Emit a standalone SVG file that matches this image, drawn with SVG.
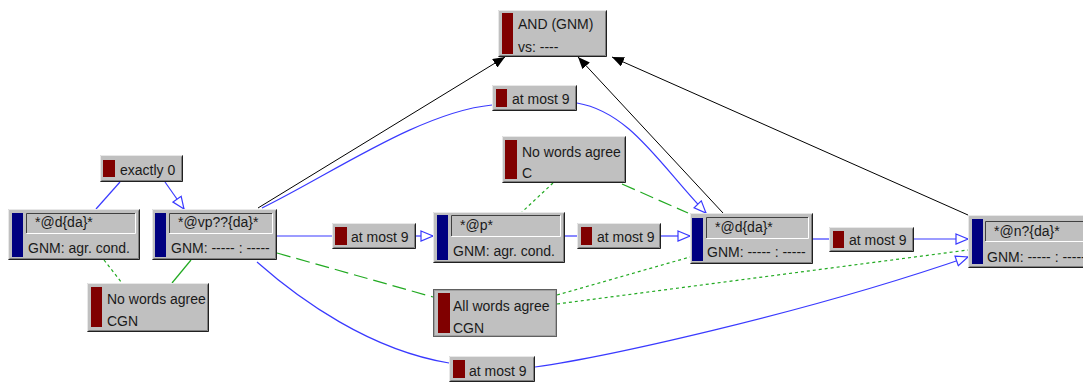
<svg xmlns="http://www.w3.org/2000/svg" width="1083" height="383" viewBox="0 0 1083 383">
<style>
.face{fill:#c0c0c0}
.hl{fill:none;stroke:#e8e8e8;stroke-width:1}
.sh{fill:none;stroke:#202020;stroke-width:1}
.sh2{fill:none;stroke:#808080;stroke-width:1}
.fd{fill:none;stroke:#404040;stroke-width:1}
.fl{fill:none;stroke:#ffffff;stroke-width:1}
.red{fill:#800000}
.blue{fill:#000080}
.t{font-family:"Liberation Sans",Arial,sans-serif;font-size:14px;fill:#1a1a1a}
.bk{fill:none;stroke:#000;stroke-width:1}
.bl{fill:none;stroke:#3a3aff;stroke-width:1.2}
.gs{fill:none;stroke:#22aa22;stroke-width:1.2}
.gd{fill:none;stroke:#22aa22;stroke-width:1.2;stroke-dasharray:14 6}
.gdot{fill:none;stroke:#22aa22;stroke-width:1.2;stroke-dasharray:3 3}
</style>
<defs>
<marker id="ab" viewBox="0 0 12 10" refX="12" refY="5" markerWidth="12" markerHeight="10" markerUnits="userSpaceOnUse" orient="auto">
<path d="M0,0 L12,5 L0,10 z" fill="#000"/>
</marker>
<marker id="ah" viewBox="-1 -1 14 12" refX="12" refY="5" markerWidth="14" markerHeight="12" markerUnits="userSpaceOnUse" orient="auto">
<path d="M0,0 L12,5 L0,10 z" fill="#fff" stroke="#3a3aff" stroke-width="1.2"/>
</marker>
</defs>
<rect width="1083" height="383" fill="#fff"/>
<g id="connectors">
<!-- black to AND -->
<path class="bk" d="M258,208 L505,57" marker-end="url(#ab)"/>
<path class="bk" d="M723,213 L578,57" marker-end="url(#ab)"/>
<path class="bk" d="M968,215 L612,57" marker-end="url(#ab)"/>
<!-- blue -->
<path class="bl" d="M120,182 L96,209"/>
<path class="bl" d="M165,182 L184,209" marker-end="url(#ah)"/>
<path class="bl" d="M277,236 L332,236"/>
<path class="bl" d="M416,236 L433,236" marker-end="url(#ah)"/>
<path class="bl" d="M565,236 L577,236"/>
<path class="bl" d="M661,236 L690,236" marker-end="url(#ah)"/>
<path class="bl" d="M813,239 L829,239"/>
<path class="bl" d="M914,239 L968,239" marker-end="url(#ah)"/>
<path class="bl" d="M262,208 C330,175 420,112 492,105"/>
<path class="bl" d="M577,103 C630,112 660,165 706,213" marker-end="url(#ah)"/>
<path class="bl" d="M257,262 C300,300 370,350 449,363"/>
<path class="bl" d="M535,367 C600,358 800,315 968,257" marker-end="url(#ah)"/>
<!-- green -->
<path class="gdot" d="M104,260 L122,283"/>
<path class="gs" d="M191,260 L172,283"/>
<path class="gd" d="M277,253 L433,297"/>
<path class="gdot" d="M557,295 L690,257"/>
<path class="gdot" d="M557,304 L968,250"/>
<path class="gdot" d="M553,183 L522,212"/>
<path class="gd" d="M622,184 L688,213"/>
</g>
<g id="n-and">
<rect class="face" x="498" y="10" width="109" height="47"/>
<path class="hl" d="M498.5,56 V10.5 H606"/><path class="sh" d="M498.5,56.5 H606.5 V10.5"/><path class="sh2" d="M499.5,55.5 H605.5 V11.5"/>
<rect class="red" x="502" y="13" width="11" height="41"/>
<text class="t" x="518" y="29">AND (GNM)</text>
<text class="t" x="518" y="52">vs: ----</text>
</g>
<g id="n-exactly0">
<rect class="face" x="100" y="155" width="83" height="27"/>
<path class="hl" d="M100.5,181 V155.5 H182"/><path class="sh" d="M100.5,181.5 H182.5 V155.5"/><path class="sh2" d="M101.5,180.5 H181.5 V156.5"/>
<rect class="red" x="103" y="160" width="12" height="17"/>
<text class="t" x="120" y="175">exactly 0</text>
</g>
<g id="n-d-left">
<rect class="face" x="8" y="209" width="132" height="51"/>
<path class="hl" d="M8.5,259 V209.5 H139"/><path class="sh" d="M8.5,259.5 H139.5 V209.5"/><path class="sh2" d="M9.5,258.5 H138.5 V210.5"/>
<rect class="blue" x="12" y="213" width="11" height="44"/>
<path class="fd" d="M26.5,233 V213.5 H135"/><path class="fl" d="M26.5,233.5 H135.5 V213.5"/>
<text class="t" x="35" y="227">*@d{da}*</text>
<text class="t" x="28" y="253">GNM: agr. cond.</text>
</g>
<g id="n-vp">
<rect class="face" x="152" y="209" width="125" height="51"/>
<path class="hl" d="M152.5,259 V209.5 H276"/><path class="sh" d="M152.5,259.5 H276.5 V209.5"/><path class="sh2" d="M153.5,258.5 H275.5 V210.5"/>
<rect class="blue" x="155" y="213" width="11" height="44"/>
<path class="fd" d="M169.5,233 V213.5 H272"/><path class="fl" d="M169.5,233.5 H272.5 V213.5"/>
<text class="t" x="178" y="227">*@vp??{da}*</text>
<text class="t" x="171" y="253">GNM: ----- : -----</text>
</g>
<g id="n-nwa-left">
<rect class="face" x="87" y="283" width="122" height="49"/>
<path class="hl" d="M87.5,331 V283.5 H208"/><path class="sh" d="M87.5,331.5 H208.5 V283.5"/><path class="sh2" d="M88.5,330.5 H207.5 V284.5"/>
<rect class="red" x="91" y="287" width="11" height="40"/>
<text class="t" x="107" y="304">No words agree</text>
<text class="t" x="107" y="326">CGN</text>
</g>
<g id="n-am9-l">
<rect class="face" x="332" y="223" width="84" height="26"/>
<path class="hl" d="M332.5,248 V223.5 H415"/><path class="sh" d="M332.5,248.5 H415.5 V223.5"/><path class="sh2" d="M333.5,247.5 H414.5 V224.5"/>
<rect class="red" x="335" y="227" width="12" height="18"/>
<text class="t" x="351" y="242">at most 9</text>
</g>
<g id="n-p">
<rect class="face" x="433" y="212" width="132" height="51"/>
<path class="hl" d="M433.5,262 V212.5 H564"/><path class="sh" d="M433.5,262.5 H564.5 V212.5"/><path class="sh2" d="M434.5,261.5 H563.5 V213.5"/>
<rect class="blue" x="437" y="215" width="11" height="45"/>
<path class="fd" d="M451.5,236 V215.5 H560"/><path class="fl" d="M451.5,236.5 H560.5 V215.5"/>
<text class="t" x="460" y="230">*@p*</text>
<text class="t" x="453" y="256">GNM: agr. cond.</text>
</g>
<g id="n-am9-m">
<rect class="face" x="577" y="223" width="84" height="26"/>
<path class="hl" d="M577.5,248 V223.5 H660"/><path class="sh" d="M577.5,248.5 H660.5 V223.5"/><path class="sh2" d="M578.5,247.5 H659.5 V224.5"/>
<rect class="red" x="581" y="227" width="11" height="18"/>
<text class="t" x="597" y="242">at most 9</text>
</g>
<g id="n-d-right">
<rect class="face" x="690" y="213" width="123" height="51"/>
<path class="hl" d="M690.5,263 V213.5 H812"/><path class="sh" d="M690.5,263.5 H812.5 V213.5"/><path class="sh2" d="M691.5,262.5 H811.5 V214.5"/>
<rect class="blue" x="692" y="218" width="11" height="43"/>
<path class="fd" d="M706.5,238 V217.5 H808"/><path class="fl" d="M706.5,238.5 H808.5 V217.5"/>
<text class="t" x="715" y="232">*@d{da}*</text>
<text class="t" x="707" y="257">GNM: ----- : -----</text>
</g>
<g id="n-am9-r">
<rect class="face" x="829" y="227" width="85" height="25"/>
<path class="hl" d="M829.5,251 V227.5 H913"/><path class="sh" d="M829.5,251.5 H913.5 V227.5"/><path class="sh2" d="M830.5,250.5 H912.5 V228.5"/>
<rect class="red" x="833" y="231" width="11" height="17"/>
<text class="t" x="849" y="245">at most 9</text>
</g>
<g id="n-n">
<rect class="face" x="968" y="215" width="125" height="53"/>
<path class="hl" d="M968.5,267 V215.5 H1092"/><path class="sh" d="M968.5,267.5 H1092.5 V215.5"/><path class="sh2" d="M969.5,266.5 H1091.5 V216.5"/>
<rect class="blue" x="972" y="219" width="11" height="45"/>
<path class="fd" d="M985.5,241 V221.5 H1089"/><path class="fl" d="M985.5,241.5 H1089.5 V221.5"/>
<text class="t" x="994" y="236">*@n?{da}*</text>
<text class="t" x="987" y="262">GNM: ----- : -----</text>
</g>
<g id="n-am9-top">
<rect class="face" x="492" y="85" width="85" height="26"/>
<path class="hl" d="M492.5,110 V85.5 H576"/><path class="sh" d="M492.5,110.5 H576.5 V85.5"/><path class="sh2" d="M493.5,109.5 H575.5 V86.5"/>
<rect class="red" x="496" y="89" width="11" height="18"/>
<text class="t" x="512" y="104">at most 9</text>
</g>
<g id="n-nwa-c">
<rect class="face" x="502" y="136" width="124" height="47"/>
<path class="hl" d="M502.5,182 V136.5 H625"/><path class="sh" d="M502.5,182.5 H625.5 V136.5"/><path class="sh2" d="M503.5,181.5 H624.5 V137.5"/>
<rect class="red" x="505" y="140" width="12" height="39"/>
<text class="t" x="522" y="157">No words agree</text>
<text class="t" x="522" y="178">C</text>
</g>
<g id="n-awa">
<rect class="face" x="433" y="289" width="124" height="48"/>
<rect x="433.5" y="289.5" width="123" height="47" fill="none" stroke="#000" stroke-width="1" stroke-dasharray="1 1"/>
<rect x="434.5" y="290.5" width="121" height="45" fill="none" stroke="#808080" stroke-width="1" stroke-dasharray="1 1"/>
<rect class="red" x="438" y="293" width="12" height="40"/>
<text class="t" x="453" y="311">All words agree</text>
<text class="t" x="453" y="333">CGN</text>
</g>
<g id="n-am9-bottom">
<rect class="face" x="449" y="356" width="86" height="26"/>
<path class="hl" d="M449.5,381 V356.5 H534"/><path class="sh" d="M449.5,381.5 H534.5 V356.5"/><path class="sh2" d="M450.5,380.5 H533.5 V357.5"/>
<rect class="red" x="453" y="360" width="12" height="18"/>
<text class="t" x="469" y="376">at most 9</text>
</g>
</svg>
